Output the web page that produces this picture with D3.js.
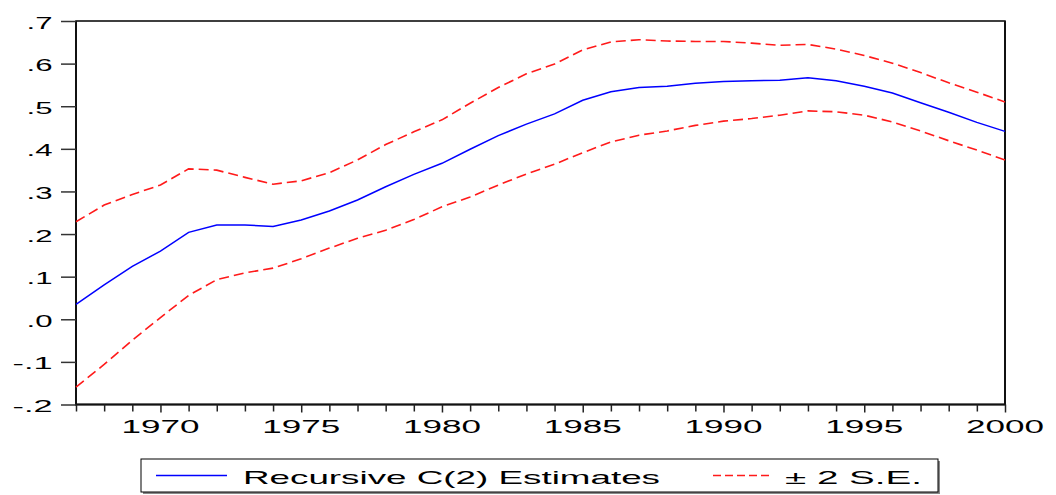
<!DOCTYPE html>
<html>
<head>
<meta charset="utf-8">
<script src="https://cdn.jsdelivr.net/npm/d3@7/dist/d3.min.js"></script>
<style>
  html, body { margin: 0; padding: 0; background: #fff; }
  svg { display: block; }
  text { font-family: "Liberation Sans", Arial, sans-serif; fill: #000; }
</style>
</head>
<body>
<svg id="chart" width="1056" height="495"></svg>
<script>
const years = d3.range(1967, 2001);
const estimate = [0.035, 0.081, 0.124, 0.160, 0.204, 0.221, 0.221, 0.218, 0.233, 0.254,
  0.280, 0.311, 0.340, 0.366, 0.399, 0.431, 0.458, 0.482, 0.514, 0.534,
  0.544, 0.547, 0.554, 0.558, 0.560, 0.561, 0.567, 0.560, 0.547, 0.531,
  0.508, 0.486, 0.462, 0.441];
const upperSE = [0.229, 0.268, 0.293, 0.315, 0.353, 0.350, 0.333, 0.317, 0.325, 0.344,
  0.374, 0.410, 0.440, 0.468, 0.507, 0.544, 0.576, 0.599, 0.632, 0.651,
  0.656, 0.653, 0.652, 0.652, 0.648, 0.643, 0.645, 0.634, 0.619, 0.601,
  0.579, 0.555, 0.533, 0.510];
const lowerSE = [-0.159, -0.106, -0.049, 0.004, 0.056, 0.093, 0.109, 0.120, 0.142, 0.167,
  0.190, 0.209, 0.234, 0.264, 0.287, 0.315, 0.341, 0.364, 0.391, 0.416,
  0.432, 0.442, 0.455, 0.465, 0.471, 0.479, 0.489, 0.487, 0.479, 0.463,
  0.442, 0.419, 0.397, 0.374];
const yTicks = [-0.2, -0.1, 0.0, 0.1, 0.2, 0.3, 0.4, 0.5, 0.6, 0.7];
const yTickLabels = ["-.2", "-.1", ".0", ".1", ".2", ".3", ".4", ".5", ".6", ".7"];
const xLabelYears = [1970, 1975, 1980, 1985, 1990, 1995, 2000];
const legendLabels = ["Recursive C(2) Estimates", "\u00b1 2 S.E."];

const svg = d3.select("#chart");
const x = d3.scaleLinear().domain([1967, 2000]).range([76, 1005]);
const y = d3.scaleLinear().domain([-0.2, 0.7]).range([404.5, 21]);

// Plot frame
svg.append("rect")
  .attr("x", x(1967)).attr("y", y(0.7))
  .attr("width", x(2000) - x(1967)).attr("height", y(-0.2) - y(0.7))
  .attr("fill", "#fff").attr("stroke", "#000").attr("stroke-width", 1.5);
// thicker left/right/bottom
svg.append("path")
  .attr("d", `M${x(1967)},${y(0.7)}V${y(-0.2)}H${x(2000)}V${y(0.7)}`)
  .attr("fill", "none").attr("stroke", "#111").attr("stroke-width", 2);

// Y axis ticks
const yAxis = d3.axisLeft(y).tickValues(yTicks).tickSize(15).tickFormat("");
const yg = svg.append("g").attr("transform", `translate(${x(1967)},0)`).call(yAxis);
yg.select(".domain").remove();
yg.selectAll(".tick line").attr("stroke", "#333").attr("stroke-width", 1.5);
svg.append("g").selectAll("text").data(yTicks).join("text")
  .attr("x", 52.5).attr("y", d => y(d) + 7.5)
  .attr("text-anchor", "end")
  .attr("font-size", 17)
  .attr("textLength", (d, i) => yTickLabels[i].length === 3 ? 40 : 26)
  .attr("lengthAdjust", "spacingAndGlyphs")
  .text((d, i) => yTickLabels[i]);

// X axis ticks
const xAxis = d3.axisBottom(x).tickValues(years).tickSize(7).tickFormat("");
const xg = svg.append("g").attr("transform", `translate(0,${y(-0.2)})`).call(xAxis);
xg.select(".domain").remove();
xg.selectAll(".tick line").attr("stroke", "#222").attr("stroke-width", 1.5)
  .attr("y2", d => xLabelYears.includes(d) ? 8 : 7);
svg.append("g").selectAll("text").data(xLabelYears).join("text")
  .attr("x", d => x(d)).attr("y", 433)
  .attr("text-anchor", "middle")
  .attr("font-size", 17.5)
  .attr("textLength", 78)
  .attr("lengthAdjust", "spacingAndGlyphs")
  .text(d => d);

// Lines
const line = d3.line().x((d, i) => x(years[i])).y(d => y(d));
svg.append("path").datum(upperSE).attr("d", line)
  .attr("fill", "none").attr("stroke", "#ff1a1a").attr("stroke-width", 1.6)
  .attr("stroke-dasharray", "10,5");
svg.append("path").datum(lowerSE).attr("d", line)
  .attr("fill", "none").attr("stroke", "#ff1a1a").attr("stroke-width", 1.6)
  .attr("stroke-dasharray", "10,5");
svg.append("path").datum(estimate).attr("d", line)
  .attr("fill", "none").attr("stroke", "#0000ff").attr("stroke-width", 1.5);

// Legend
const lg = svg.append("g");
lg.append("rect").attr("x", 143).attr("y", 461).attr("width", 797).attr("height", 33)
  .attr("fill", "#888");
lg.append("rect").attr("x", 141).attr("y", 459).attr("width", 797).attr("height", 33)
  .attr("fill", "#fff").attr("stroke", "#000").attr("stroke-width", 1);
lg.append("line").attr("x1", 156).attr("x2", 227).attr("y1", 475.5).attr("y2", 475.5)
  .attr("stroke", "#0000ff").attr("stroke-width", 1.3);
lg.append("text").attr("x", 243).attr("y", 483.5).attr("font-size", 18.5)
  .attr("textLength", 417).attr("lengthAdjust", "spacingAndGlyphs")
  .text(legendLabels[0]);
lg.append("line").attr("x1", 713).attr("x2", 773).attr("y1", 475.5).attr("y2", 475.5)
  .attr("stroke", "#ff1a1a").attr("stroke-width", 1.3).attr("stroke-dasharray", "8,4");
lg.append("text").attr("x", 785).attr("y", 483.5).attr("font-size", 18.5)
  .attr("textLength", 137).attr("lengthAdjust", "spacingAndGlyphs")
  .text(legendLabels[1]);
</script>
</body>
</html>
